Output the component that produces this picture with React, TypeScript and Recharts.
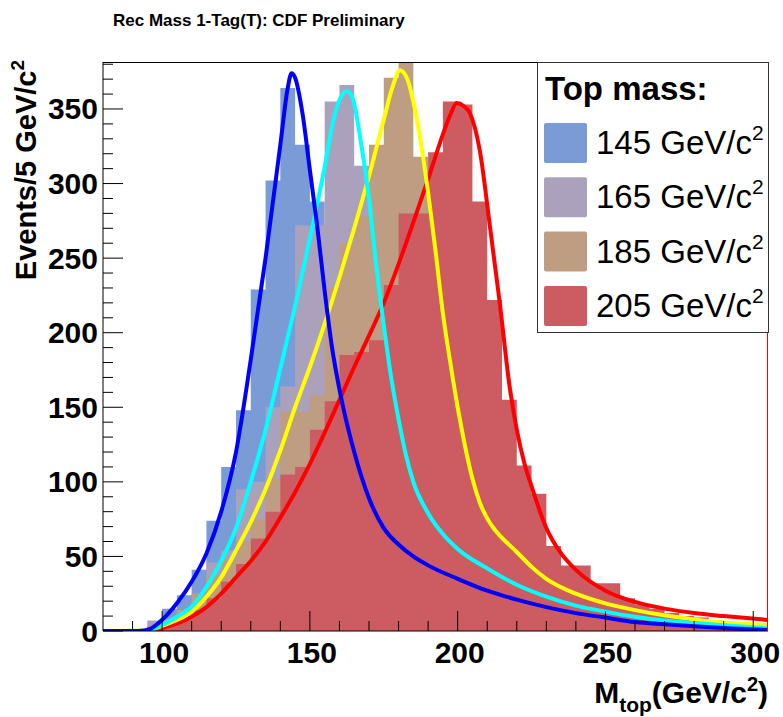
import { ComposedChart, Area, Line, XAxis, YAxis } from "recharts"

// lower edges of the 5 GeV bins that have entries
const binLow = [
  95, 100, 105, 110, 115, 120, 125, 130, 135, 140, 145, 150, 155, 160, 165, 170, 175, 180, 185, 190, 195,
  200, 205, 210, 215, 220, 225, 230, 235, 240, 245, 250, 255, 260, 265, 270, 275, 280, 285, 290, 295, 300,
]

const counts145 = [
  3, 15, 24, 41, 74, 110, 148, 229, 302, 364, 326, 288, 210, 150, 105, 78, 60, 48, 40, 34, 29,
  25, 22, 19, 17, 15, 13, 11, 10, 9, 8, 7, 6, 5, 5, 4, 4, 3, 3, 3, 2, 2,
]
const counts165 = [
  7, 8, 14, 25, 46, 54, 95, 100, 150, 164, 272, 272, 355, 366, 312, 250, 180, 125, 90, 70, 55,
  45, 38, 32, 27, 23, 20, 17, 15, 13, 11, 10, 9, 8, 7, 6, 5, 5, 4, 4, 3, 3,
]
const counts185 = [
  3, 7, 14, 25, 37, 48, 60, 75, 102, 147, 147, 158, 230, 260, 278, 326, 371, 388, 318, 265, 200,
  140, 100, 75, 58, 46, 38, 31, 26, 22, 19, 16, 14, 12, 10, 9, 8, 7, 6, 5, 4, 4,
]
const counts205 = [
  1, 3, 8, 14, 22, 33, 45, 62, 80, 105, 110, 135, 154, 185, 187, 195, 232, 280, 280, 321, 355,
  353, 288, 222, 155, 111, 92, 57, 44, 44, 32, 32, 22, 18, 15, 12, 10, 9, 7, 6, 5, 4,
]

// fit curves
const fitX145 = [80, 92, 96, 100, 105, 110, 115, 120, 125, 130, 135, 140, 142.5, 143.8, 145, 147.5, 150, 152.5, 155, 157.5, 160, 165, 170, 175, 180, 185, 190, 200, 210, 220, 230, 240, 250, 260, 270, 280, 290, 305]
const fitY145 = [0, 0, 1.5, 7.5, 18.6, 33, 52, 80, 120, 182, 250, 326, 364, 374, 371, 347, 309, 271, 228, 190, 162, 120, 89, 69, 58, 50, 44, 35, 27, 21, 16, 12, 9, 6, 4.5, 3.2, 2, 0.7]

const fitX165 = [80, 94, 100, 105, 110, 115, 120, 125, 130, 135, 140, 145, 150, 155, 158, 160.5, 162.4, 164.5, 167, 170, 172.5, 175, 177.5, 180, 182.5, 185, 190, 195, 200, 210, 220, 230, 240, 250, 260, 270, 280, 290, 305]
const fitY165 = [0, 0, 4, 9.6, 16.3, 29.5, 47, 69, 100, 135, 176, 218, 263, 311, 343, 358, 362, 357, 331, 290, 244, 205, 170, 142, 118, 100, 79, 65, 55, 42, 31, 23, 17, 13, 9.5, 7, 5.3, 3.8, 1.8]

const fitX185 = [80, 95, 100, 105, 110, 115, 120, 125, 130, 135, 140, 145, 150, 155, 160, 165, 170, 175, 178, 180.5, 183, 185, 187.5, 190, 192.5, 195, 197.5, 200, 202.5, 205, 207.5, 210, 212.5, 215, 220, 225, 230, 240, 250, 260, 270, 280, 290, 305]
const fitY185 = [0, 0.5, 3.5, 7.4, 13, 23, 36, 54, 73, 95, 121, 150, 177, 206, 237, 270, 305, 343, 365, 376, 370, 355, 328, 294, 255, 213, 180, 150, 124, 102, 86, 75.5, 68, 62.5, 53, 43, 35, 25, 18.5, 14, 10.5, 7.8, 5.7, 4]

const fitX205 = [80, 97, 100, 105, 110, 115, 120, 125, 130, 135, 140, 145, 150, 155, 160, 165, 170, 175, 180, 185, 190, 195, 197.5, 199.7, 202, 204.2, 207.5, 211, 214.3, 217.5, 220, 222.5, 225, 230, 235, 240, 250, 260, 270, 280, 290, 305]
const fitY205 = [0, 0, 2, 5, 9.6, 16, 25, 36, 47, 60, 76, 93, 112, 133, 155, 177, 198, 220, 246, 274, 303, 333, 346, 354, 352, 347, 322, 270, 219, 165, 135, 113, 97, 69, 52, 41, 27, 19.5, 15, 12, 10, 7.4]

const xTicks = [90, 100, 110, 120, 130, 140, 150, 160, 170, 180, 190, 200, 210, 220, 230, 240, 250, 260, 270, 280, 290, 300]
const yTicks = [0, 10, 20, 30, 40, 50, 60, 70, 80, 90, 100, 110, 120, 130, 140, 150, 160, 170, 180, 190, 200, 210, 220, 230, 240, 250, 260, 270, 280, 290, 300, 310, 320, 330, 340, 350, 360, 370, 380]

const legendItems = [
  { label: "145", color: "#7b9bd6" },
  { label: "165", color: "#aba1bd" },
  { label: "185", color: "#bf9d83" },
  { label: "205", color: "#cd5c62" },
]

const font = "'Liberation Sans', Arial, Helvetica, sans-serif"

// histogram table: one row per bin edge, stepAfter areas
const histRows: any[] = []
for (let x = 80; x <= 305; x += 5) {
  const i = binLow.indexOf(x === 305 ? 300 : x)
  histRows.push({
    x,
    h145: i >= 0 ? counts145[i] : 0,
    h165: i >= 0 ? counts165[i] : 0,
    h185: i >= 0 ? counts185[i] : 0,
    h205: i >= 0 ? counts205[i] : 0,
  })
}

const toRows = (xs: number[], ys: number[]) => xs.map((x, i) => ({ x, y: ys[i] }))
const fits = [
  { rows: toRows(fitX205, fitY205), color: "#ff0000" },
  { rows: toRows(fitX185, fitY185), color: "#ffff00" },
  { rows: toRows(fitX165, fitY165), color: "#00ffff" },
  { rows: toRows(fitX145, fitY145), color: "#0000ff" },
]

function YTick(props: any) {
  const { x, y, payload } = props
  const major = payload.value % 50 === 0
  return (
    <g>
      <line x1={x} y1={y} x2={x + (major ? 20 : 10)} y2={y} stroke="#000" strokeWidth={1} />
      {major && (
        <text x={x - 5} y={y} textAnchor="end" dominantBaseline="central" fontFamily={font} fontWeight="bold" fontSize={30} fill="#000">
          {payload.value}
        </text>
      )}
    </g>
  )
}

function XTick(props: any) {
  const { x, y, payload } = props
  const major = payload.value % 50 === 0
  return (
    <g>
      <line x1={x} y1={y} x2={x} y2={y - (major ? 20 : 10)} stroke="#000" strokeWidth={1} />
      {major && (
        <text x={x + 2} y={y + 32} textAnchor="middle" fontFamily={font} fontWeight="bold" fontSize={30} fill="#000">
          {payload.value}
        </text>
      )}
    </g>
  )
}

export default function App() {
  return (
    <div style={{ position: "absolute", left: 0, top: 0, width: 783, height: 717, background: "#fff" }}>
      <ComposedChart width={783} height={717} data={histRows} margin={{ top: 62, right: 15, bottom: 0, left: 0 }}>
        <XAxis
          dataKey="x"
          type="number"
          domain={[80, 305]}
          ticks={xTicks}
          interval={0}
          allowDataOverflow
          height={86}
          tickSize={0}
          tickMargin={0}
          tickLine={false}
          axisLine={{ stroke: "#000" }}
          tick={<XTick />}
        />
        <YAxis
          type="number"
          domain={[0, 381.5]}
          ticks={yTicks}
          interval={0}
          allowDataOverflow
          width={103}
          tickSize={0}
          tickMargin={0}
          tickLine={false}
          axisLine={{ stroke: "#000" }}
          tick={<YTick />}
        />
        <Area dataKey="h145" type="stepAfter" stroke="none" fill={legendItems[0].color} fillOpacity={1} isAnimationActive={false} />
        <Area dataKey="h165" type="stepAfter" stroke="none" fill={legendItems[1].color} fillOpacity={1} isAnimationActive={false} />
        <Area dataKey="h185" type="stepAfter" stroke="none" fill={legendItems[2].color} fillOpacity={1} isAnimationActive={false} />
        <Area dataKey="h205" type="stepAfter" stroke="none" fill={legendItems[3].color} fillOpacity={1} isAnimationActive={false} />
        {fits.map((f, i) => (
          <Line
            key={i}
            data={f.rows}
            dataKey="y"
            type="monotone"
            stroke={f.color}
            strokeWidth={4}
            dot={false}
            activeDot={false}
            isAnimationActive={false}
          />
        ))}
      </ComposedChart>

      <svg width={783} height={717} style={{ position: "absolute", left: 0, top: 0, pointerEvents: "none" }}>
        {/* frame */}
        <line x1={103} y1={62.5} x2={537} y2={62.5} stroke="#000" strokeWidth={1} />
        <line x1={767.5} y1={333} x2={767.5} y2={631} stroke="#ff0000" strokeWidth={1} />

        {/* title */}
        <text x={113} y={26} fontFamily={font} fontWeight="bold" fontSize={17} fill="#000">
          Rec Mass 1-Tag(T): CDF Preliminary
        </text>

        {/* y axis title */}
        <text transform="rotate(-90)" x={-60} y={36} textAnchor="end" fontFamily={font} fontWeight="bold" fontSize={29} fill="#000">
          Events/5 GeV/c<tspan dy={-12} fontSize={19}>2</tspan>
        </text>

        {/* x axis title */}
        <text x={768} y={703} textAnchor="end" fontFamily={font} fontWeight="bold" fontSize={30} fill="#000">
          M<tspan dy={9} fontSize={21}>top</tspan>
          <tspan dy={-9}>(GeV/c</tspan>
          <tspan dy={-12} fontSize={20}>2</tspan>
          <tspan dy={12}>)</tspan>
        </text>

        {/* legend */}
        <rect x={537.5} y={62.5} width={231} height={270} fill="#fff" stroke="#333" strokeWidth={1} />
        <text x={545} y={100} fontFamily={font} fontWeight="bold" fontSize={33} fill="#000">
          Top mass:
        </text>
        {legendItems.map((it, i) => (
          <g key={it.label}>
            <rect x={544} y={123 + i * 54.3} width={43} height={40} rx={2} fill={it.color} />
            <text x={596} y={154 + i * 54.3} fontFamily={font} fontSize={33} fill="#000">
              {it.label} GeV/c<tspan dy={-14} fontSize={21}>2</tspan>
            </text>
          </g>
        ))}
      </svg>
    </div>
  )
}
